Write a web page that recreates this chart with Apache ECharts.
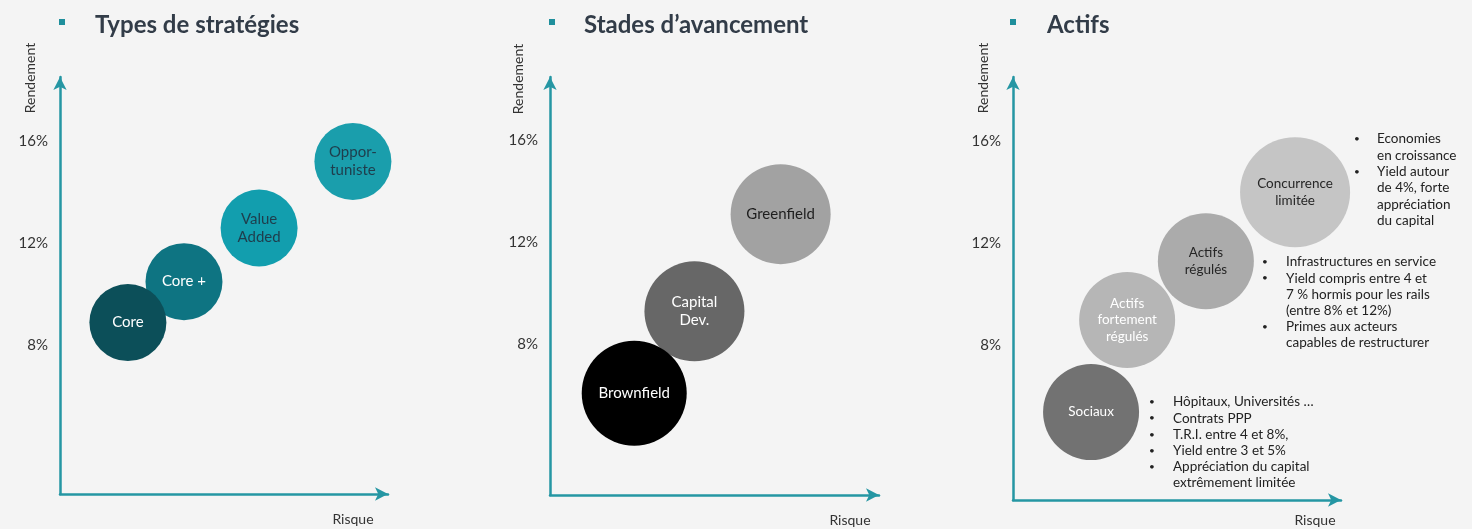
<!DOCTYPE html>
<html>
<head>
<meta charset="utf-8">
<script src="https://cdn.jsdelivr.net/npm/echarts@6/dist/echarts.min.js"></script>
<style>
html,body{margin:0;padding:0;background:#f4f4f4;}
#c{width:1472px;height:529px;}
</style>
</head>
<body>
<div id="c"></div>
<script>
// ---------- DATA ----------
const titles = ['Types de stratégies', 'Stades d\u2019avancement', 'Actifs'];
const yTickValues = [8, 12, 16];
const yAxisName = 'Rendement';
const xAxisName = 'Risque';

// Panel 1 : Types de stratégies  (risk score, return %)
const strategyNames = ['Core', 'Core +', 'Value\nAdded', 'Oppor-\ntuniste'];
const strategyRisk = [20.7, 37.8, 60.7, 89.3];
const strategyReturn = [8.9, 10.5, 12.6, 15.2];

// Panel 2 : Stades d'avancement
const stageNames = ['Brownfield', 'Capital\nDev.', 'Greenfield'];
const stageRisk = [25.6, 43.9, 70.1];
const stageReturn = [6.1, 9.3, 13.1];

// Panel 3 : Actifs
const assetNames = ['Sociaux', 'Actifs\nfortement\nrégulés', 'Actifs\nrégulés', 'Concurrence\nlimitée'];
const assetRisk = [23.8, 34.8, 58.8, 86.0];
const assetReturn = [5.4, 9.0, 11.3, 14.0];

// Bullet notes (panel 3)
const notesConcurrence = [['Economies', 'en croissance'], ['Yield autour', 'de 4%, forte', 'appréciation', 'du capital']];
const notesRegules = [['Infrastructures en service'], ['Yield compris entre 4 et', '7 % hormis pour les rails', '(entre 8% et 12%)'], ['Primes aux acteurs', 'capables de restructurer']];
const notesSociaux = [['Hôpitaux, Universités …'], ['Contrats PPP'], ['T.R.I. entre 4 et 8%,'], ['Yield entre 3 et 5%'], ['Appréciation du capital', 'extrêmement limitée']];

// ---------- STYLES ----------
const FONT = 'Lato, "Noto Sans", sans-serif';
const AXIS_COLOR = '#2596a3';
const panels = [
  {left: 60, top: 77, width: 328, bottom: 494, yMin: 2.195, yMax: 18.504,
   names: strategyNames, xs: strategyRisk, ys: strategyReturn,
   colors: ['#0c4f59', '#0e7482', '#129eae', '#1a9eac'],
   text: ['#ffffff', '#ffffff', '#1f3d4c', '#1f3d4c'],
   sizes: [77, 77, 77, 77], fs: 15},
  {left: 550, top: 77, width: 329, bottom: 495, yMin: 2.117, yMax: 18.465,
   names: stageNames, xs: stageRisk, ys: stageReturn,
   colors: ['#000000', '#676767', '#a2a2a2'],
   text: ['#ffffff', '#ffffff', '#1e1e1e'],
   sizes: [105, 100, 100], fs: 15},
  {left: 1013, top: 77, width: 328, bottom: 500, yMin: 1.96, yMax: 18.504,
   names: assetNames, xs: assetRisk, ys: assetReturn,
   colors: ['#727272', '#b6b6b6', '#ababab', '#c5c5c5'],
   text: ['#ffffff', '#ffffff', '#262626', '#262626'],
   sizes: [96, 96, 96, 110], fs: 13.5}
];
const titleLefts = [90, 579, 1042];
const squareLefts = [59, 549, 1010];
const yNamePos = [[30, 78], [518, 79], [983, 78]];
const xNamePos = [[353, 519], [850, 520], [1315, 520]];

const grids = [], xAxes = [], yAxes = [], series = [];
panels.forEach((p, i) => {
  grids.push({left: p.left, top: p.top, width: p.width, height: p.bottom - p.top, containLabel: false});
  xAxes.push({
    type: 'value', gridIndex: i, min: 0, max: 100,
    axisLine: {show: true, onZero: false, symbol: ['none', 'arrow'], symbolSize: [10, 13], lineStyle: {color: AXIS_COLOR, width: 2.5}},
    axisTick: {show: false}, axisLabel: {show: false}, splitLine: {show: false}
  });
  yAxes.push({
    type: 'value', gridIndex: i, min: p.yMin, max: p.yMax,
    axisLine: {show: true, onZero: false, symbol: ['none', 'arrow'], symbolSize: [10, 13], lineStyle: {color: AXIS_COLOR, width: 2.5}},
    axisTick: {show: false},
    axisLabel: {show: true, customValues: yTickValues, formatter: '{value}%', fontFamily: FONT, fontSize: 15, color: '#333333', margin: 12},
    splitLine: {show: false}
  });
  // draw upper-right bubbles first so lower-left ones sit on top
  const data = [];
  for (let k = p.names.length - 1; k >= 0; k--) {
    data.push({
      name: p.names[k], value: [p.xs[k], p.ys[k]],
      symbolSize: p.sizes[k],
      itemStyle: {color: p.colors[k], opacity: 1},
      label: {color: p.text[k]}
    });
  }
  series.push({
    type: 'scatter', xAxisIndex: i, yAxisIndex: i, symbol: 'circle', data: data,
    label: {show: true, position: 'inside', formatter: '{b}', fontFamily: FONT, fontSize: p.fs, lineHeight: p.fs + 3},
    emphasis: {disabled: true}, animation: false
  });
});

// Graphics: title squares, axis names, bullet notes
const graphic = [];
squareLefts.forEach(x => graphic.push({type: 'rect', shape: {x: x, y: 19, width: 6, height: 6}, style: {fill: '#1f8f9c'}, silent: true}));
yNamePos.forEach(([x, y]) => graphic.push({type: 'text', x: x, y: y, rotation: Math.PI / 2,
  style: {text: yAxisName, font: '14px ' + FONT, fill: '#333333', align: 'center', verticalAlign: 'middle'}}));
xNamePos.forEach(([x, y]) => graphic.push({type: 'text', x: x, y: y,
  style: {text: xAxisName, font: '14px ' + FONT, fill: '#333333', align: 'center', verticalAlign: 'middle'}}));

function bulletBlock(items, bx, tx, y0, lh) {
  let y = y0;
  items.forEach(lines => {
    graphic.push({type: 'text', x: bx, y: y, style: {text: '•', font: '10px ' + FONT, fill: '#222222', align: 'center', verticalAlign: 'middle'}});
    lines.forEach(line => {
      graphic.push({type: 'text', x: tx, y: y, style: {text: line, font: '13.5px ' + FONT, fill: '#222222', align: 'left', verticalAlign: 'middle'}});
      y += lh;
    });
  });
}
bulletBlock(notesConcurrence, 1357, 1377, 139, 16.3);
bulletBlock(notesRegules, 1265, 1286, 262, 16.2);
bulletBlock(notesSociaux, 1152, 1173, 402, 16.2);

const chart = echarts.init(document.getElementById('c'), null, {renderer: 'canvas'});
chart.setOption({
  backgroundColor: '#f4f4f4',
  animation: false,
  title: titles.map((t, i) => ({text: t, left: titleLefts[i], top: 8,
    textStyle: {fontFamily: FONT, fontSize: 24, fontWeight: 'bold', color: '#323c48'}})),
  grid: grids, xAxis: xAxes, yAxis: yAxes, series: series, graphic: graphic
});
</script>
</body>
</html>
